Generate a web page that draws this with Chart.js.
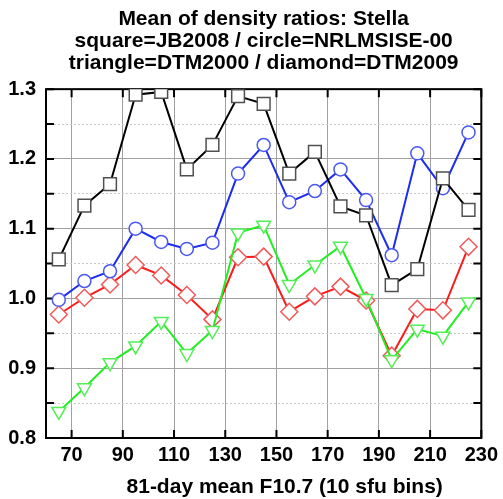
<!DOCTYPE html>
<html>
<head>
<meta charset="utf-8">
<script src="https://cdn.jsdelivr.net/npm/chart.js@4"></script>
<style>
  body { margin: 0; background: #fff; }
  #wrap { width: 503px; height: 499px; }
</style>
</head>
<body>
<div id="wrap"><canvas id="ratio-chart" width="503" height="499"></canvas></div>
<script>
// 81-day mean F10.7 bin centres (10 sfu bins)
const f107Bins = [65, 75, 85, 95, 105, 115, 125, 135, 145, 155, 165, 175, 185, 195, 205, 215, 225];

// mean density ratios per model
const jb2008 = [1.056, 1.133, 1.164, 1.292, 1.296, 1.185, 1.220, 1.290, 1.279, 1.179, 1.210, 1.132, 1.119, 1.019, 1.042, 1.172, 1.127];
const nrlmsise00 = [0.998, 1.025, 1.039, 1.100, 1.081, 1.071, 1.080, 1.179, 1.220, 1.138, 1.154, 1.185, 1.141, 1.062, 1.208, 1.158, 1.238];
const dtm2000 = [0.838, 0.872, 0.908, 0.932, 0.967, 0.921, 0.954, 1.094, 1.105, 1.020, 1.048, 1.075, 1.000, 0.912, 0.956, 0.946, 0.995];
const dtm2009 = [0.977, 1.001, 1.020, 1.048, 1.033, 1.005, 0.970, 1.059, 1.060, 0.981, 1.003, 1.017, 0.997, 0.918, 0.985, 0.983, 1.074];

// axis ticks
const xTickValues = [70, 90, 110, 130, 150, 170, 190, 210, 230];
const yTickValues = [0.8, 0.85, 0.9, 0.95, 1.0, 1.05, 1.1, 1.15, 1.2, 1.25, 1.3];

const titleLines = [
  "Mean of density ratios: Stella",
  "square=JB2008 / circle=NRLMSISE-00",
  "triangle=DTM2000 / diamond=DTM2009",
];
const xAxisTitle = "81-day mean F10.7 (10 sfu bins)";

const FONT = "'Liberation Sans', Arial, Helvetica, sans-serif";

const toPoints = (ys) => ys.map((y, i) => ({ x: f107Bins[i], y: y }));
const isMajor = (v) => Math.round(v * 100) % 10 === 0;

// frame round the plot area, inward tick marks, x axis title
const framePlugin = {
  id: "frame",
  afterLayout(chart) {
    // centre the title over the plot area, not the whole canvas
    if (chart.titleBlock) {
      chart.titleBlock.left = chart.chartArea.left;
      chart.titleBlock.right = chart.chartArea.right;
    }
  },
  beforeDatasetsDraw(chart) {
    const { ctx, chartArea: a, scales } = chart;
    ctx.save();
    ctx.strokeStyle = "#000";
    ctx.lineWidth = 2;
    ctx.beginPath();
    xTickValues.forEach((v) => {
      const px = scales.x.getPixelForValue(v);
      ctx.moveTo(px, a.bottom);
      ctx.lineTo(px, a.bottom - 8);
      ctx.moveTo(px, a.top);
      ctx.lineTo(px, a.top + 8);
    });
    yTickValues.forEach((v) => {
      const py = scales.y.getPixelForValue(v);
      ctx.moveTo(a.left, py);
      ctx.lineTo(a.left + 8, py);
      ctx.moveTo(a.right, py);
      ctx.lineTo(a.right - 8, py);
    });
    ctx.stroke();
    ctx.strokeRect(a.left, a.top, a.right - a.left, a.bottom - a.top);
    ctx.restore();
  },
  afterDraw(chart) {
    const { ctx, chartArea: a } = chart;
    ctx.save();
    ctx.fillStyle = "#000";
    ctx.font = "bold 21px " + FONT;
    ctx.textAlign = "center";
    ctx.textBaseline = "middle";
    ctx.fillText(xAxisTitle, (a.left + a.right) / 2 + 21, 487);
    ctx.restore();
  },
};

const ctx = document.getElementById("ratio-chart").getContext("2d");
const ratioChart = new Chart(ctx, {
  type: "line",
  data: {
    datasets: [
      {
        label: "JB2008",
        data: toPoints(jb2008),
        borderColor: "#000000",
        borderWidth: 2,
        pointStyle: "rect",
        pointRadius: 9,
        pointBorderColor: "#505050",
        pointBackgroundColor: "#ffffff",
        pointBorderWidth: 1.5,
      },
      {
        label: "NRLMSISE-00",
        data: toPoints(nrlmsise00),
        borderColor: "#1c2cf0",
        borderWidth: 2,
        pointStyle: "circle",
        pointRadius: 6.5,
        pointBorderColor: "#4a58f0",
        pointBackgroundColor: "#ffffff",
        pointBorderWidth: 1.5,
      },
      {
        label: "DTM2000",
        data: toPoints(dtm2000),
        borderColor: "#22ee22",
        borderWidth: 2,
        pointStyle: "triangle",
        rotation: 180,
        pointRadius: 8,
        pointBorderColor: "#55ee55",
        pointBackgroundColor: "#ffffff",
        pointBorderWidth: 1.5,
      },
      {
        label: "DTM2009",
        data: toPoints(dtm2009),
        borderColor: "#ff1a1a",
        borderWidth: 2,
        pointStyle: "rectRot",
        pointRadius: 8.5,
        pointBorderColor: "#f05a5a",
        pointBackgroundColor: "#ffffff",
        pointBorderWidth: 1.5,
      },
    ],
  },
  options: {
    responsive: false,
    animation: false,
    layout: { padding: { left: 0, right: 17, top: 0, bottom: 0 } },
    plugins: {
      legend: { display: false },
      tooltip: { enabled: false },
      title: {
        display: true,
        text: titleLines,
        color: "#000",
        font: { family: FONT, size: 21, weight: "bold", lineHeight: 1.05 },
        padding: { top: 8, bottom: 15 },
      },
    },
    scales: {
      x: {
        type: "linear",
        min: 60,
        max: 230,
        afterBuildTicks: (scale) => {
          scale.ticks = xTickValues.map((v) => ({ value: v }));
        },
        afterFit: (scale) => {
          scale.height = 61;
        },
        ticks: {
          color: "#000",
          padding: 5,
          maxRotation: 0,
          autoSkip: false,
          font: { family: FONT, size: 20, weight: "bold" },
        },
        grid: { color: "#a0a0a0", lineWidth: 1, drawTicks: false },
        border: { display: false },
      },
      y: {
        min: 0.8,
        max: 1.3,
        afterBuildTicks: (scale) => {
          scale.ticks = yTickValues.map((v) => ({ value: v }));
        },
        afterFit: (scale) => {
          scale.width = 46;
        },
        ticks: {
          color: "#000",
          padding: 10,
          autoSkip: false,
          font: { family: FONT, size: 20, weight: "bold" },
          callback: (v) => (isMajor(v) ? v.toFixed(1) : ""),
        },
        grid: {
          drawTicks: false,
          lineWidth: 1,
          color: (c) => (c.tick && isMajor(c.tick.value) ? "#a0a0a0" : "#c8c8c8"),
        },
        border: {
          display: false,
          dash: (c) => (c.tick && isMajor(c.tick.value) ? [] : [2, 2]),
        },
      },
    },
  },
  plugins: [framePlugin],
});
</script>
</body>
</html>
